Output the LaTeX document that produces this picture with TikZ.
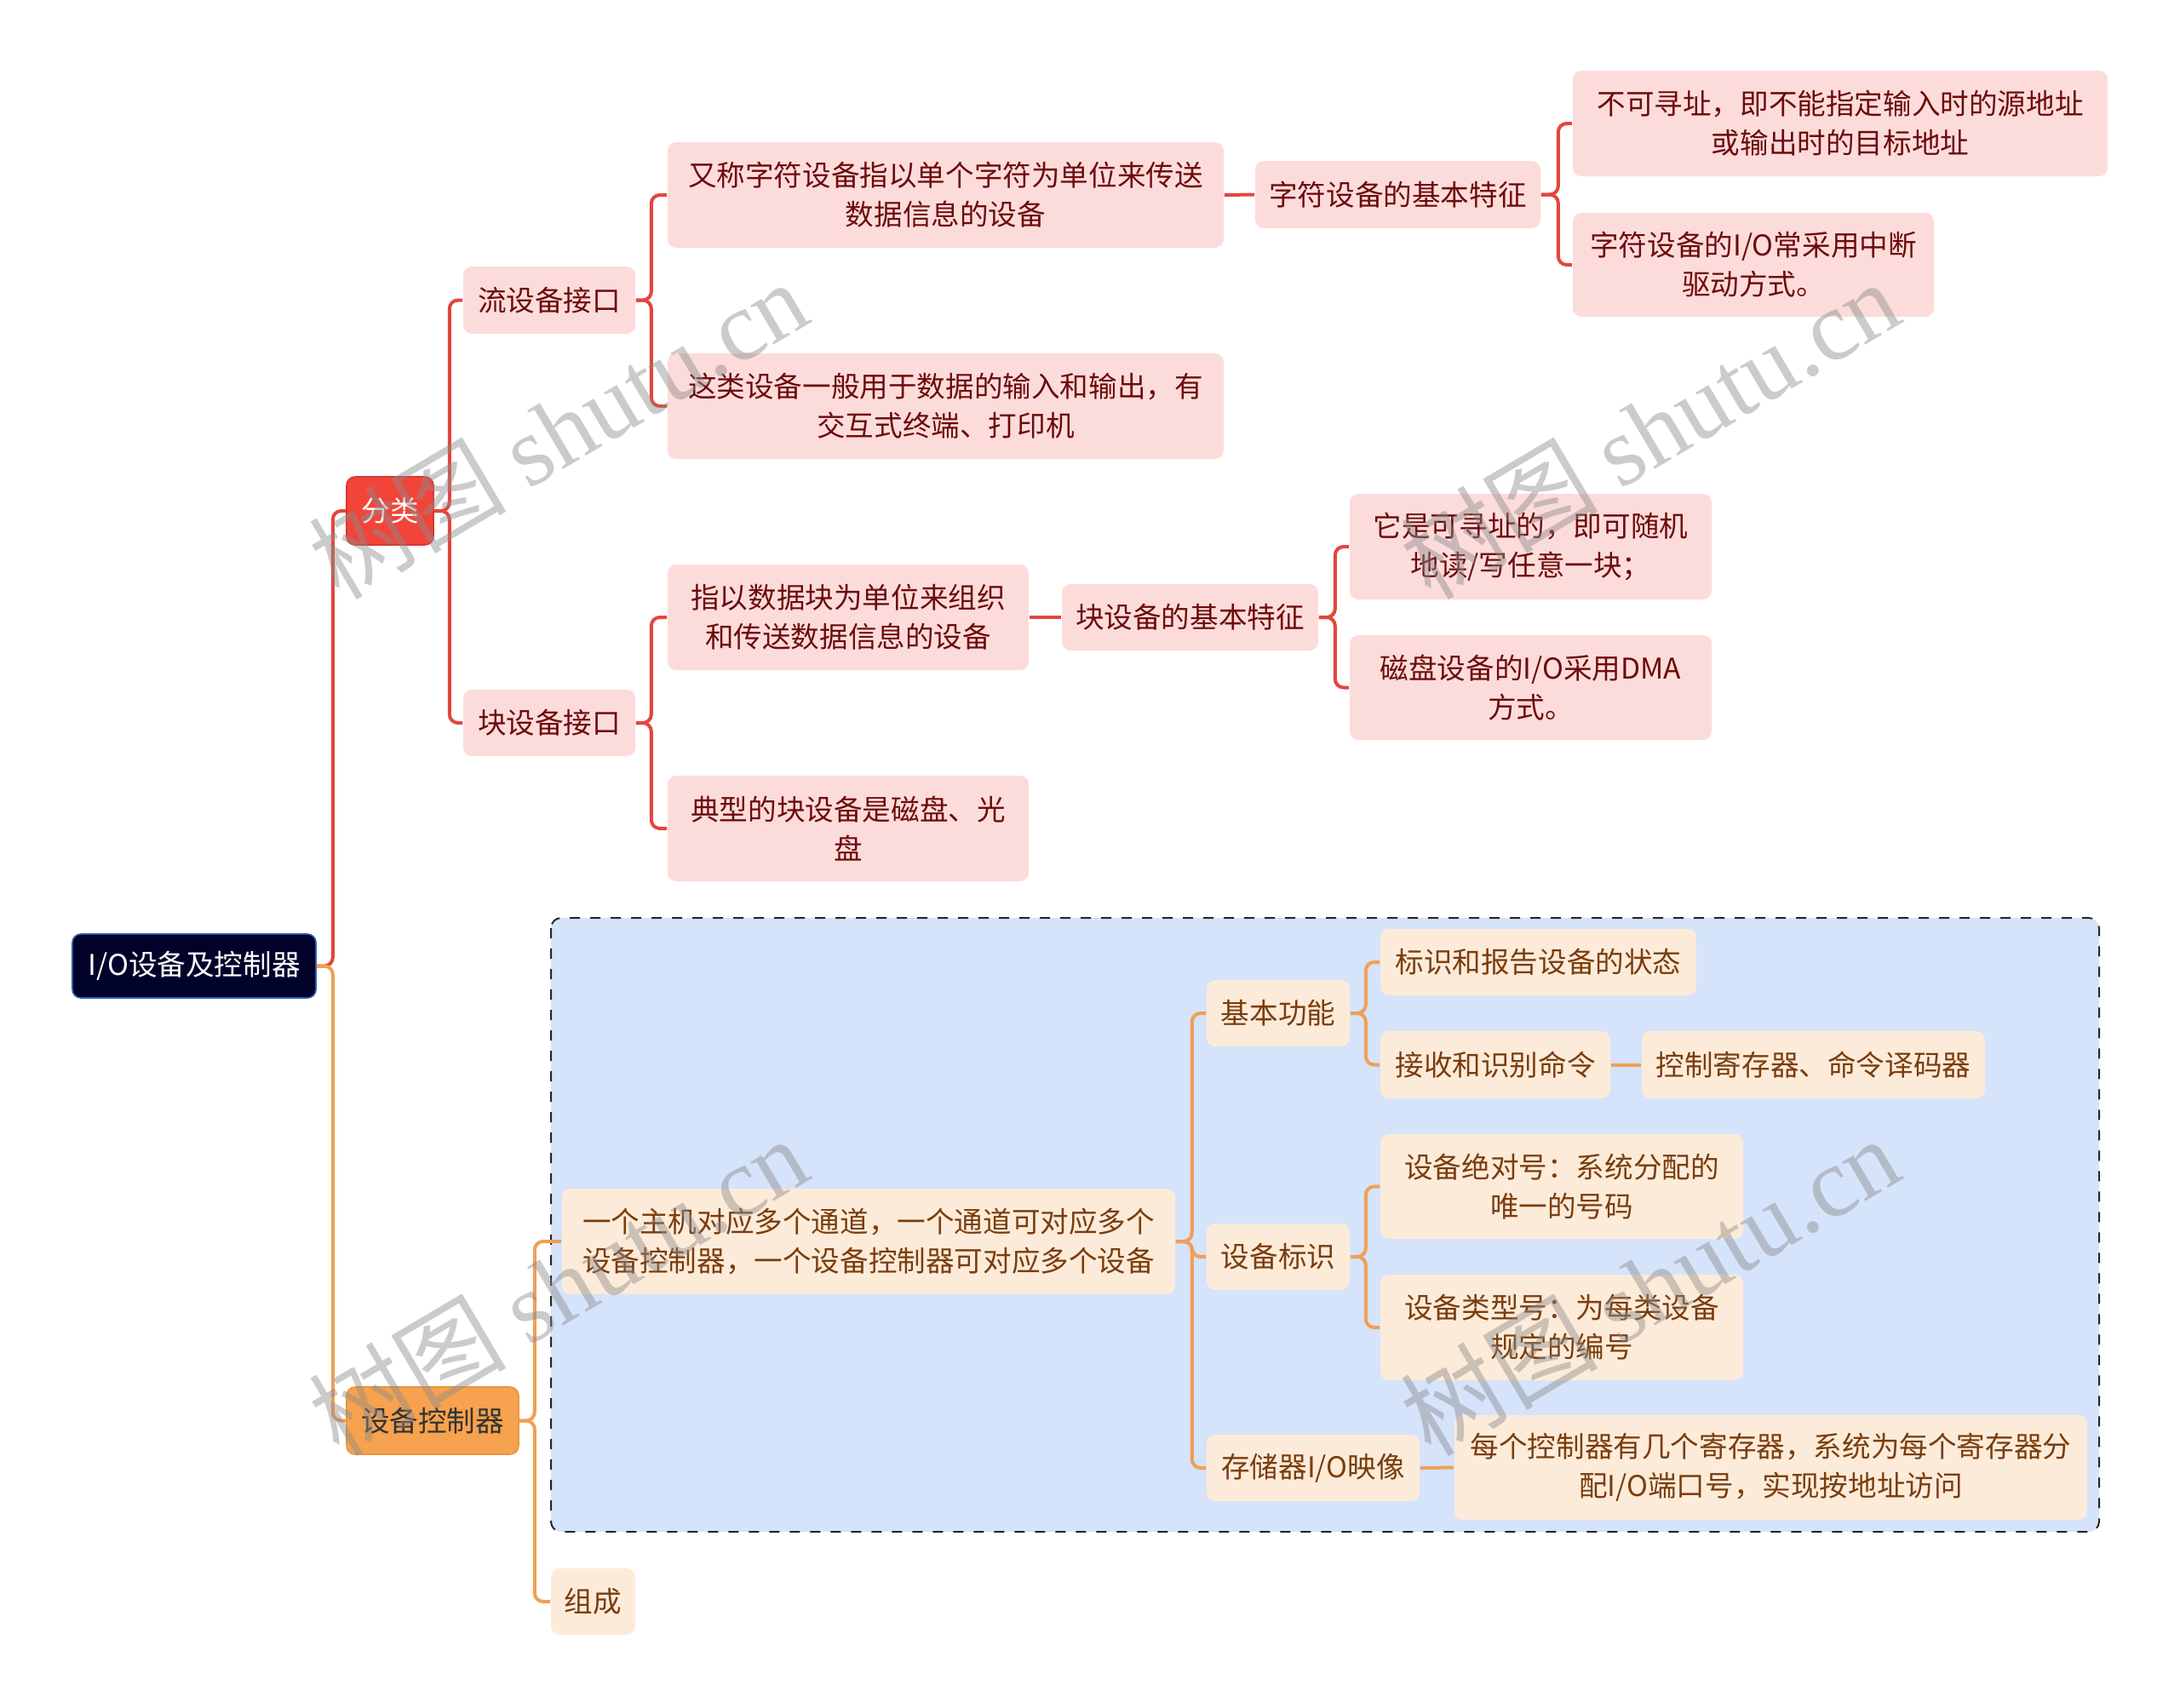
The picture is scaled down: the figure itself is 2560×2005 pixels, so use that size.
\documentclass[tikz,border=0pt]{standalone}
\usepackage{fontspec}
\setmainfont{Noto Sans CJK SC}
\newfontfamily\wmserif{Liberation Serif}
\newfontfamily\wmcjk{Noto Sans CJK SC}
\definecolor{lred}{HTML}{E3463D}
\definecolor{pinkf}{HTML}{FCDCDB}
\definecolor{dred}{HTML}{6E0B0B}
\definecolor{redf}{HTML}{F3443A}
\definecolor{redb}{HTML}{D43A32}
\definecolor{navyf}{HTML}{00022A}
\definecolor{navyb}{HTML}{2F5DA6}
\definecolor{lor}{HTML}{EFA055}
\definecolor{orf}{HTML}{F6A24E}
\definecolor{orb}{HTML}{E8953F}
\definecolor{creamf}{HTML}{FDEBDA}
\definecolor{browntxt}{HTML}{7A3D0C}
\definecolor{bluef}{HTML}{D5E3FB}
\definecolor{wmgray}{HTML}{8C8C8C}
\newcommand\mybox[7]{%
  \pgfmathsetmacro\bw{(#5-#3)*0.25}%
  \pgfmathsetmacro\bh{(#6-#4)*0.25}%
  \node[#2, minimum width=\bw pt, minimum height=\bh pt] (#1) at ({(#3+#5)/2},{(#4+#6)/2}) {#7};}
\tikzset{
  base/.style={rectangle, rounded corners=2.5pt, inner sep=0pt, align=center,
    font=\fontsize{8.4}{11.5}\selectfont},
  rootbox/.style={base, fill=navyf, draw=navyb, line width=0.4pt, text=white},
  redtop/.style={base, fill=redf, draw=redb, line width=0.4pt, text=white},
  pinkbox/.style={base, fill=pinkf, text=dred},
  ortop/.style={base, fill=orf, draw=orb, line width=0.4pt, text=black!80},
  creambox/.style={base, fill=creamf, text=browntxt},
  redline/.style={draw=lred, line width=1pt, rounded corners=2.5pt},
  orline/.style={draw=lor, line width=1pt, rounded corners=2.5pt},
  groupbox/.style={fill=bluef, draw=black!85, dashed, line width=0.5pt, rounded corners=3pt},
  wmark/.style={text=wmgray, opacity=0.45, inner sep=0pt, rotate=30.6,
    font=\fontsize{29}{29}\selectfont}
}
\begin{document}
\begin{tikzpicture}[x=0.25pt,y=-0.25pt]
\useasboundingbox[fill=white] (0,0) rectangle (2560,2005);
% group background
\draw[groupbox] (647,1078) rectangle (2465,1799);
% nodes
\mybox{root}{rootbox}{85}{1097}{371}{1172}{I/O设备及控制器}
\mybox{fenlei}{redtop}{407}{560}{509}{640}{分类}
\mybox{kongzhi}{ortop}{407}{1629}{609}{1708}{设备控制器}
\mybox{liu}{pinkbox}{544}{313}{746}{392}{流设备接口}
\mybox{kuai}{pinkbox}{544}{810}{746}{888}{块设备接口}
\mybox{liu1}{pinkbox}{784}{167}{1437}{291}{又称字符设备指以单个字符为单位来传送\\数据信息的设备}
\mybox{liu2}{pinkbox}{784}{415}{1437}{539}{这类设备一般用于数据的输入和输出，有\\交互式终端、打印机}
\mybox{zifu}{pinkbox}{1474}{189}{1809}{268}{字符设备的基本特征}
\mybox{zifu1}{pinkbox}{1847}{83}{2475}{207}{不可寻址，即不能指定输入时的源地址\\或输出时的目标地址}
\mybox{zifu2}{pinkbox}{1847}{250}{2271}{372}{字符设备的I/O常采用中断\\驱动方式。}
\mybox{kuai1}{pinkbox}{784}{663}{1208}{787}{指以数据块为单位来组织\\和传送数据信息的设备}
\mybox{kuai2}{pinkbox}{784}{911}{1208}{1035}{典型的块设备是磁盘、光\\盘}
\mybox{kuaitz}{pinkbox}{1247}{686}{1548}{764}{块设备的基本特征}
\mybox{kuaitz1}{pinkbox}{1585}{580}{2010}{704}{它是可寻址的，即可随机\\地读/写任意一块；}
\mybox{kuaitz2}{pinkbox}{1585}{746}{2010}{869}{磁盘设备的I/O采用DMA\\方式。}
\mybox{zhuji}{creambox}{660}{1396}{1380}{1520}{一个主机对应多个通道，一个通道可对应多个\\设备控制器，一个设备控制器可对应多个设备}
\mybox{zucheng}{creambox}{647}{1842}{746}{1920}{组成}
\mybox{jbgn}{creambox}{1417}{1151}{1585}{1229}{基本功能}
\mybox{sbbs}{creambox}{1417}{1437}{1585}{1515}{设备标识}
\mybox{ccq}{creambox}{1417}{1685}{1667}{1763}{存储器I/O映像}
\mybox{jbgn1}{creambox}{1621}{1091}{1992}{1169}{标识和报告设备的状态}
\mybox{jbgn2}{creambox}{1621}{1211}{1891}{1290}{接收和识别命令}
\mybox{jbgn2a}{creambox}{1928}{1211}{2331}{1290}{控制寄存器、命令译码器}
\mybox{sbbs1}{creambox}{1621}{1332}{2047}{1455}{设备绝对号：系统分配的\\唯一的号码}
\mybox{sbbs2}{creambox}{1621}{1497}{2047}{1621}{设备类型号：为每类设备\\规定的编号}
\mybox{ccq1}{creambox}{1708}{1662}{2451}{1785}{每个控制器有几个寄存器，系统为每个寄存器分\\配I/O端口号，实现按地址访问}
% connectors - red branch
\draw[redline] (root.east) -- ++(19,0) |- (fenlei.west);
\draw[redline] (fenlei.east) -- ++(18,0) |- (liu.west);
\draw[redline] (fenlei.east) -- ++(18,0) |- (kuai.west);
\draw[redline] (liu.east) -- ++(18,0) |- (liu1.west);
\draw[redline] (liu.east) -- ++(18,0) |- (liu2.west);
\draw[redline] (liu1.east) -- (zifu.west);
\draw[redline] (zifu.east) -- ++(20,0) |- (zifu1.west);
\draw[redline] (zifu.east) -- ++(20,0) |- (zifu2.west);
\draw[redline] (kuai.east) -- ++(18,0) |- (kuai1.west);
\draw[redline] (kuai.east) -- ++(18,0) |- (kuai2.west);
\draw[redline] (kuai1.east) -- (kuaitz.west);
\draw[redline] (kuaitz.east) -- ++(19,0) |- (kuaitz1.west);
\draw[redline] (kuaitz.east) -- ++(19,0) |- (kuaitz2.west);
% connectors - orange branch
\draw[orline] (root.east) -- ++(19,0) |- (kongzhi.west);
\draw[orline] (kongzhi.east) -- ++(18,0) |- (zhuji.west);
\draw[orline] (kongzhi.east) -- ++(18,0) |- (zucheng.west);
\draw[orline] (zhuji.east) -- ++(19,0) |- (jbgn.west);
\draw[orline] (zhuji.east) -- ++(19,0) |- (sbbs.west);
\draw[orline] (zhuji.east) -- ++(19,0) |- (ccq.west);
\draw[orline] (jbgn.east) -- ++(18,0) |- (jbgn1.west);
\draw[orline] (jbgn.east) -- ++(18,0) |- (jbgn2.west);
\draw[orline] (jbgn2.east) -- (jbgn2a.west);
\draw[orline] (sbbs.east) -- ++(18,0) |- (sbbs1.west);
\draw[orline] (sbbs.east) -- ++(18,0) |- (sbbs2.west);
\draw[orline] (ccq.east) -- (ccq1.west);
% watermarks
\node[wmark] (wm1) at (655,504) {{\wmcjk 树图} {\wmserif shutu.cn}};
\node[wmark] (wm2) at (1937,504) {{\wmcjk 树图} {\wmserif shutu.cn}};
\node[wmark] (wm3) at (655,1510) {{\wmcjk 树图} {\wmserif shutu.cn}};
\node[wmark] (wm4) at (1937,1510) {{\wmcjk 树图} {\wmserif shutu.cn}};
\end{tikzpicture}
\end{document}
